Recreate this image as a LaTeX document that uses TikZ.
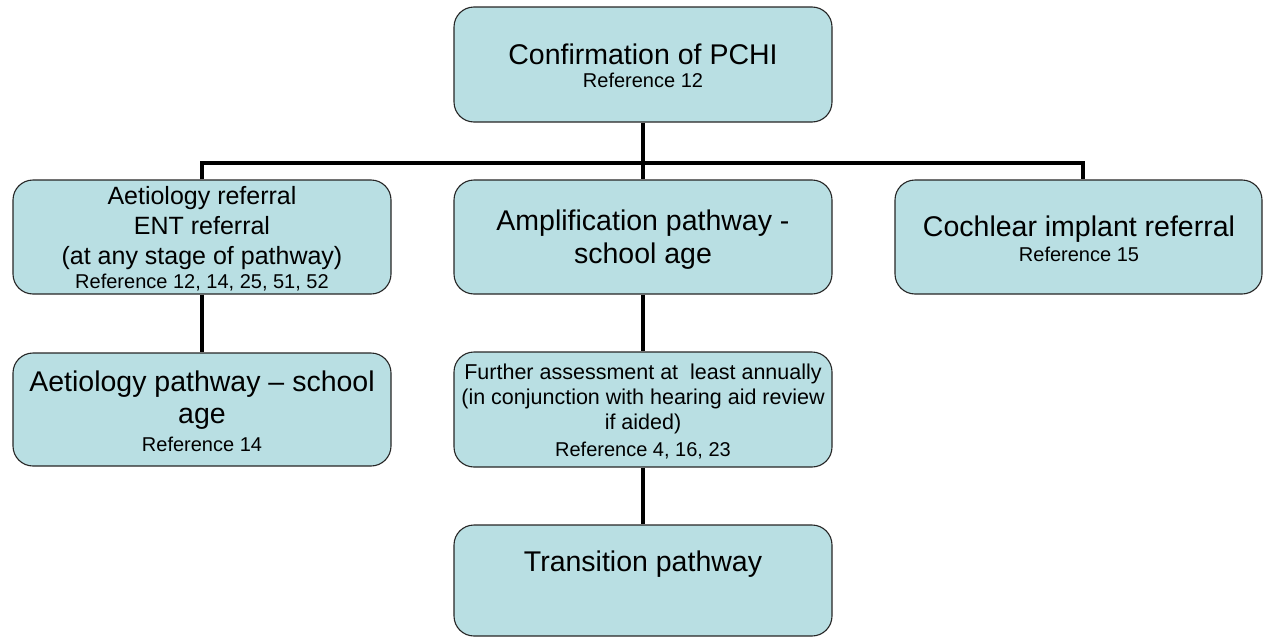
\documentclass[tikz,border=0pt]{standalone}
\usepackage{fontspec}
\setmainfont{Liberation Sans}
\definecolor{boxfill}{RGB}{185,223,227}
\tikzset{
  box/.style={draw=black!85, line width=1.1pt, fill=boxfill, rounded corners=20pt,
              inner sep=0pt, minimum width=#1},
  box/.default=378pt,
  wire/.style={line width=4pt, black},
  txt/.style={align=center, inner sep=0pt, text=black},
}
\newcommand{\refsize}{\fontsize{20}{24}\selectfont}
\begin{document}
\begin{tikzpicture}[x=1pt, y=-1pt]
  \useasboundingbox (0,0) rectangle (1263,637);

  % boxes
  \node[box, minimum height=115pt] (conf)    at (643,64.5)   {};
  \node[box, minimum height=114pt] (aetref)  at (202,237)    {};
  \node[box, minimum height=114pt] (ampl)    at (643,237)    {};
  \node[box=367pt, minimum height=114pt] (coch) at (1078.5,237) {};
  \node[box, minimum height=113pt] (aetpath) at (202,409.5)  {};
  \node[box, minimum height=115pt] (further) at (643,409.5)  {};
  \node[box, minimum height=111pt] (trans)   at (643,580.5)  {};

  % box texts
  \node[txt, font=\fontsize{28.5}{23}\selectfont] (confT) at (643,66)
    {Confirmation of PCHI\\ \refsize Reference 12};
  \node[txt, font=\fontsize{25}{30}\selectfont] (aetrefT) at (202,239)
    {Aetiology referral\\ ENT referral\\ (at any stage of pathway)\\[-6pt]
     \refsize Reference 12, 14, 25, 51, 52};
  \node[txt, font=\fontsize{28.5}{33}\selectfont] (amplT) at (643,240)
    {Amplification pathway -\\ school age};
  \node[txt, font=\fontsize{28.5}{25}\selectfont] (cochT) at (1079,239)
    {Cochlear implant referral\\ \refsize Reference 15};
  \node[txt, font=\fontsize{28.5}{32}\selectfont] (aetpathT) at (202,411)
    {Aetiology pathway -- school\\ age\\[-4pt] \refsize Reference 14};
  \node[txt, font=\fontsize{21.5}{25}\selectfont] (furtherT) at (643,411)
    {Further assessment at\ \ least annually\\ (in conjunction with hearing aid review\\
     if aided)\\[2pt] \refsize Reference 4, 16, 23};
  \node[txt, font=\fontsize{28.5}{33}\selectfont] (transT) at (643,564)
    {Transition pathway};

  % connectors
  \coordinate (hub) at (643,163);
  \draw[wire] (conf.south) -- (ampl.north);
  \draw[wire] (aetref.north) |- (hub) -| ([xshift=4.5pt]coch.north);
  \draw[wire] (aetref.south) -- (aetpath.north);
  \draw[wire] (ampl.south) -- (further.north);
  \draw[wire] (further.south) -- (trans.north);
\end{tikzpicture}
\end{document}
